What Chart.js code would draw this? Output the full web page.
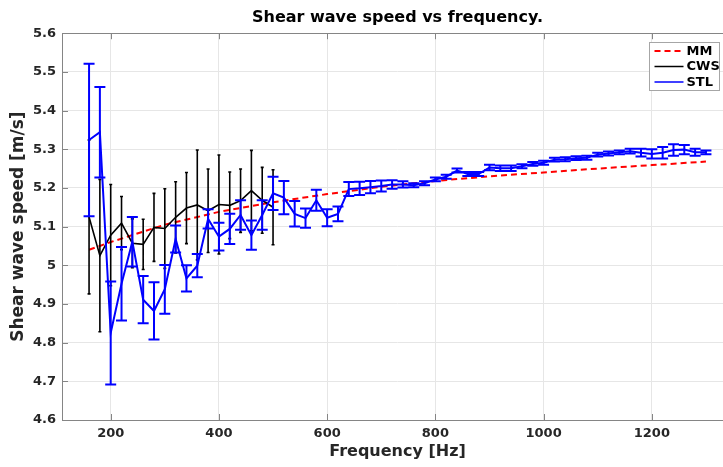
<!DOCTYPE html>
<html><head><meta charset="utf-8">
<script src="https://cdn.jsdelivr.net/npm/chart.js@4.4.0/dist/chart.umd.min.js"></script>
<style>
html,body{margin:0;padding:0;background:#fff;overflow:hidden;}
#wrap{position:relative;width:733px;height:467px;}
</style></head><body>
<div id="wrap"><canvas id="c" width="733" height="467"></canvas></div>
<script>
// ---- data ----
const freqMM = [160, 200, 300, 400, 500, 600, 700, 800, 900, 1000, 1100, 1200, 1300];
const mmSpeed = [5.040, 5.060, 5.105, 5.138, 5.163, 5.184, 5.203, 5.218, 5.230, 5.240, 5.250, 5.259, 5.268];

const freqCWS = [160, 180, 200, 220, 240, 260, 280, 300, 320, 340, 360, 380, 400, 420, 440, 460, 480, 500];
const cwsSpeed = [5.125, 5.025, 5.078, 5.109, 5.057, 5.054, 5.098, 5.095, 5.124, 5.148, 5.156, 5.141, 5.157, 5.155, 5.167, 5.193, 5.168, 5.150];
const cwsErr = [0.199, 0.197, 0.131, 0.069, 0.063, 0.065, 0.088, 0.103, 0.092, 0.092, 0.142, 0.108, 0.128, 0.086, 0.082, 0.104, 0.085, 0.097];

const freqSTL = [160, 180, 200, 220, 240, 260, 280, 300, 320, 340, 360, 380, 400, 420, 440, 460, 480, 500,
  520, 540, 560, 580, 600, 620, 640, 660, 680, 700, 720, 740, 760, 780, 800, 820, 840, 860, 880, 900,
  920, 940, 960, 980, 1000, 1020, 1040, 1060, 1080, 1100, 1120, 1140, 1160, 1180, 1200, 1220, 1240, 1260, 1280, 1300];
const stlSpeed = [5.324, 5.344, 4.825, 4.952, 5.061, 4.911, 4.882, 4.938, 5.068, 4.966, 4.999, 5.120, 5.074, 5.094, 5.130, 5.078, 5.130, 5.186,
  5.175, 5.133, 5.122, 5.168, 5.123, 5.133, 5.197, 5.199, 5.202, 5.205, 5.209, 5.209, 5.207, 5.212, 5.222, 5.229, 5.245, 5.236, 5.236, 5.253,
  5.251, 5.251, 5.256, 5.262, 5.265, 5.273, 5.274, 5.277, 5.278, 5.286, 5.289, 5.292, 5.295, 5.291, 5.288, 5.291, 5.298, 5.299, 5.292, 5.292];
const stlErr = [0.197, 0.117, 0.133, 0.095, 0.064, 0.061, 0.074, 0.063, 0.035, 0.034, 0.030, 0.025, 0.036, 0.039, 0.038, 0.038, 0.038, 0.043,
  0.043, 0.033, 0.025, 0.027, 0.022, 0.019, 0.018, 0.017, 0.016, 0.014, 0.011, 0.008, 0.005, 0.005, 0.005, 0.005, 0.005, 0.005, 0.005, 0.007,
  0.007, 0.007, 0.005, 0.005, 0.005, 0.005, 0.005, 0.005, 0.005, 0.005, 0.005, 0.005, 0.006, 0.010, 0.012, 0.015, 0.015, 0.012, 0.009, 0.005];

const xTicks = [200, 400, 600, 800, 1000, 1200];
const yTickLabels = ['4.6', '4.7', '4.8', '4.9', '5', '5.1', '5.2', '5.3', '5.4', '5.5', '5.6'];
const seriesNames = ['MM', 'CWS', 'STL'];

// ---- drawing ----
const FONT = "'DejaVu Sans', sans-serif";
const AXIS_COLOR = '#858585';
const TEXT_COLOR = '#262626';

function pts(xs, ys) { return xs.map((x, i) => ({ x: x, y: ys[i] })); }

const errorBarPlugin = {
  id: 'errorBars',
  afterDatasetDraw(chart, args) {
    const ds = chart.data.datasets[args.index];
    if (!ds.errors) return;
    const ctx = chart.ctx, xs = chart.scales.x, ys = chart.scales.y, a = chart.chartArea;
    ctx.save();
    ctx.beginPath(); ctx.rect(a.left, a.top, a.right - a.left, a.bottom - a.top); ctx.clip();
    ctx.strokeStyle = ds.borderColor; ctx.lineWidth = ds.errWidth; ctx.lineCap = 'butt';
    ctx.beginPath();
    ds.data.forEach((p, i) => {
      const e = ds.errors[i];
      const px = xs.getPixelForValue(p.x);
      const yt = ys.getPixelForValue(p.y + e), yb = ys.getPixelForValue(p.y - e);
      const c = ds.capHalf;
      ctx.moveTo(px, yt); ctx.lineTo(px, yb);
      ctx.moveTo(px - c, yt); ctx.lineTo(px + c, yt);
      ctx.moveTo(px - c, yb); ctx.lineTo(px + c, yb);
    });
    ctx.stroke();
    ctx.restore();
  }
};

const framePlugin = {
  id: 'frame',
  afterDraw(chart) {
    const ctx = chart.ctx, a = chart.chartArea, xs = chart.scales.x, ys = chart.scales.y;
    ctx.save();
    ctx.strokeStyle = AXIS_COLOR; ctx.lineWidth = 1;
    ctx.strokeRect(Math.round(a.left) + 0.5, Math.round(a.top) + 0.5, Math.round(a.right - a.left), Math.round(a.bottom - a.top));
    ctx.beginPath();
    xs.ticks.forEach(t => {
      const px = Math.round(xs.getPixelForValue(t.value)) + 0.5;
      ctx.moveTo(px, a.bottom); ctx.lineTo(px, a.bottom - 6);
      ctx.moveTo(px, a.top); ctx.lineTo(px, a.top + 6);
    });
    ys.ticks.forEach(t => {
      const py = Math.round(ys.getPixelForValue(t.value)) + 0.5;
      ctx.moveTo(a.left, py); ctx.lineTo(a.left + 6, py);
      ctx.moveTo(a.right, py); ctx.lineTo(a.right - 6, py);
    });
    ctx.stroke();

    // legend box
    const bw = 70, bh = 48;
    const bx = Math.round(a.right - 84) + 0.5, by = Math.round(a.top + 9) + 0.5;
    ctx.fillStyle = '#fff';
    ctx.fillRect(bx, by, bw, bh);
    ctx.strokeStyle = '#a6a6a6';
    ctx.strokeRect(bx, by, bw, bh);
    ctx.font = 'bold 13px ' + FONT;
    ctx.textBaseline = 'middle';
    ctx.textAlign = 'left';
    chart.data.datasets.forEach((ds, i) => {
      const ry = by + 8.5 + i * 15.5;
      ctx.beginPath();
      ctx.strokeStyle = ds.borderColor;
      ctx.lineWidth = ds.legendWidth;
      ctx.setLineDash(ds.borderDash || []);
      ctx.moveTo(bx + 5, ry); ctx.lineTo(bx + 34, ry);
      ctx.stroke();
      ctx.setLineDash([]);
      ctx.fillStyle = '#000';
      ctx.fillText(ds.label, bx + 37, ry + 0.5);
    });
    ctx.restore();
  }
};

new Chart(document.getElementById('c'), {
  type: 'scatter',
  data: {
    datasets: [
      { label: seriesNames[0], data: pts(freqMM, mmSpeed), showLine: true, borderColor: '#ff0000', borderWidth: 2,
        borderDash: [6, 4], pointRadius: 0, order: 3, legendWidth: 2 },
      { label: seriesNames[1], data: pts(freqCWS, cwsSpeed), showLine: true, borderColor: '#000000', borderWidth: 1.6,
        pointRadius: 0, order: 2, errors: cwsErr, errWidth: 1.6, capHalf: 1.5, legendWidth: 1.5 },
      { label: seriesNames[2], data: pts(freqSTL, stlSpeed), showLine: true, borderColor: '#0000ff', borderWidth: 2,
        pointRadius: 0, order: 1, errors: stlErr, errWidth: 2, capHalf: 5.5, legendWidth: 1.5 }
    ]
  },
  options: {
    responsive: false,
    animation: false,
    devicePixelRatio: 1,
    layout: { padding: { left: 0, right: 0, top: 0, bottom: 0 } },
    plugins: {
      legend: { display: false },
      tooltip: { enabled: false },
      title: {
        display: true, text: 'Shear wave speed vs frequency.', fullSize: false,
        color: '#000', font: { family: FONT, size: 16, weight: 'bold' },
        padding: { top: 8, bottom: 6 }
      }
    },
    scales: {
      x: {
        type: 'linear', min: 110, max: 1350,
        afterBuildTicks: s => { s.ticks = xTicks.map(v => ({ value: v })); },
        afterFit: s => { s.height = 47; },
        ticks: { color: TEXT_COLOR, font: { family: FONT, size: 13, weight: 'bold' }, padding: 6, maxRotation: 0,
          callback: v => String(v) },
        grid: { color: '#e6e6e6', lineWidth: 1, drawTicks: false },
        border: { display: false },
        title: { display: true, text: 'Frequency [Hz]', color: TEXT_COLOR,
          font: { family: FONT, size: 16, weight: 'bold' }, padding: { top: 0, bottom: 6 } }
      },
      y: {
        type: 'linear', min: 4.6, max: 5.6,
        afterBuildTicks: s => { s.ticks = yTickLabels.map(l => ({ value: parseFloat(l) })); },
        afterFit: s => { s.width = 62; },
        ticks: { color: TEXT_COLOR, font: { family: FONT, size: 13, weight: 'bold' }, padding: 6,
          callback: v => yTickLabels.find(l => Math.abs(parseFloat(l) - v) < 1e-6) },
        grid: { color: '#e6e6e6', lineWidth: 1, drawTicks: false },
        border: { display: false },
        title: { display: true, text: 'Shear wave speed [m/s]', color: TEXT_COLOR,
          font: { family: FONT, size: 17, weight: 'bold' }, padding: { top: 8, bottom: 0 } }
      }
    }
  },
  plugins: [errorBarPlugin, framePlugin]
});
</script>
</body></html>
